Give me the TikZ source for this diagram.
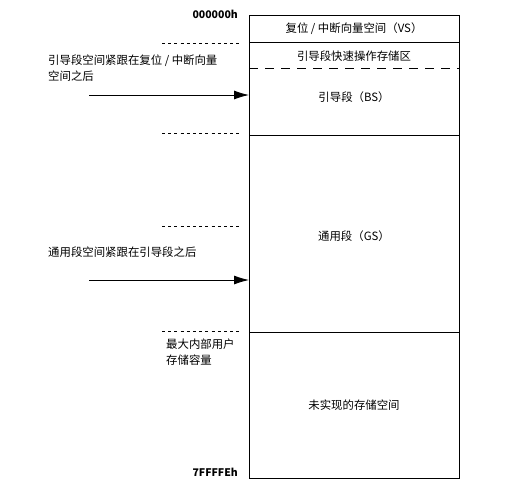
\documentclass[tikz,border=0pt]{standalone}
\usepackage{fontspec}
\setmainfont{Noto Sans CJK SC}
\usetikzlibrary{arrows.meta}
\begin{document}
\begin{tikzpicture}[x=1pt,y=-1pt,
  lbl/.style={font=\fontsize{11.4}{16}\selectfont, inner sep=0pt},
  leftlbl/.style={lbl, anchor=west, align=left},
  addr/.style={font=\fontsize{10.5}{12}\selectfont\bfseries, inner sep=0pt, anchor=east},
  seg/.style={draw=black, line width=0.9pt},
  dotline/.style={line width=0.7pt, dash pattern=on 3pt off 3.2pt},
  longdash/.style={line width=0.8pt, dash pattern=on 9pt off 7pt},
  ptr/.style={line width=0.9pt, -{Latex[length=15pt,width=9pt]}}]
\useasboundingbox (0,0) rectangle (521,499);
% box coordinates
\coordinate (tl) at (249,15);
\coordinate (br) at (459,478);
\draw[seg] (249,15) rectangle (459,478);
\draw[seg] (249,42) -- (459,42);
\draw[longdash] (249,68) -- (459,68);
\draw[seg] (249,135) -- (459,135);
\draw[seg] (249,332) -- (459,332);
% box labels
\node[lbl] (vs) at (354,29) {复位 / 中断向量空间（VS）};
\node[lbl] (fast) at (354,56) {引导段快速操作存储区};
\node[lbl] (bs) at (354,97) {引导段（BS）};
\node[lbl] (gs) at (354,236) {通用段（GS）};
\node[lbl] (un) at (354,405) {未实现的存储空间};
% addresses
\node[addr] (a0) at (238,14) {000000h};
\node[addr] (a1) at (238,472) {7FFFFEh};
% dotted markers
\draw[dotline] (162,43) -- (240,43);
\draw[dotline] (162,133) -- (240,133);
\draw[dotline] (162,226) -- (240,226);
\draw[dotline] (162,331) -- (240,331);
% left labels
\node[leftlbl] (t1) at (48,68) {引导段空间紧跟在复位 / 中断向量\\空间之后};
\node[leftlbl] (t2) at (48,252) {通用段空间紧跟在引导段之后};
\node[leftlbl] (t3) at (166,352) {最大内部用户\\存储容量};
% arrows
\coordinate (s1) at (89,95);
\coordinate (e1) at (249,95);
\coordinate (s2) at (89,280);
\coordinate (e2) at (249,280);
\draw[ptr] (s1) -- (e1);
\draw[ptr] (s2) -- (e2);
\end{tikzpicture}
\end{document}
